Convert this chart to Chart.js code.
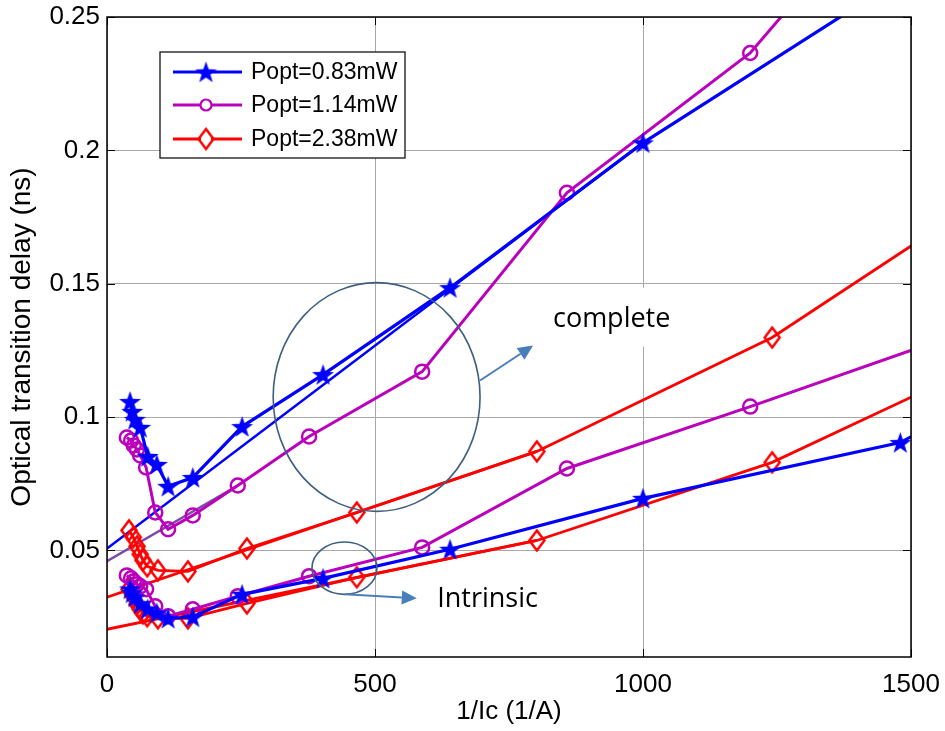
<!DOCTYPE html>
<html>
<head>
<meta charset="utf-8">
<script src="https://cdn.jsdelivr.net/npm/chart.js"></script>
<style>
  html, body { margin: 0; padding: 0; background: #fff; }
  #wrap { width: 945px; height: 731px; }
</style>
</head>
<body>
<div id="wrap"><canvas id="delayChart" width="945" height="731"></canvas></div>
<script>
(function () {
  // axis ticks
  const xTicks = [0, 500, 1000, 1500];
  const yTicks = [0.05, 0.1, 0.15, 0.2, 0.25];

  // Popt = 0.83 mW (stars)
  const blueX = [43, 47, 52, 62, 76, 93, 114, 160, 252, 403, 640, 1000, 1480];
  const blueComplete = [0.1058, 0.1021, 0.0991, 0.0961, 0.0852, 0.0822, 0.0740, 0.0773, 0.0964, 0.1159, 0.1485, 0.2028, 0.2644];
  const blueIntX = [43, 47, 52, 62, 76, 93, 114, 160, 252, 403, 640, 1000, 1480, 1700];
  const blueIntrinsic = [0.0355, 0.0340, 0.0325, 0.0300, 0.0280, 0.0265, 0.0245, 0.0250, 0.0335, 0.0395, 0.0504, 0.0695, 0.0904, 0.1146];

  // Popt = 1.14 mW (circles)
  const magX = [37, 45, 50, 56, 62, 73, 90, 114, 160, 244, 377, 588, 858, 1200, 1700];
  const magComplete = [0.0923, 0.0912, 0.0893, 0.0878, 0.0856, 0.0811, 0.0642, 0.0579, 0.0631, 0.0743, 0.0927, 0.1170, 0.1841, 0.2365, 0.354];
  const magIntrinsic = [0.0406, 0.0395, 0.0384, 0.0373, 0.0365, 0.0354, 0.0290, 0.0253, 0.0279, 0.0328, 0.0403, 0.0511, 0.0807, 0.1039, 0.139];

  // Popt = 2.38 mW (diamonds)
  const redX = [41, 49, 56, 62, 67, 75, 95, 151, 261, 466, 802, 1241, 1700];
  const redComplete = [0.0575, 0.0549, 0.0515, 0.0485, 0.0463, 0.0440, 0.0425, 0.0421, 0.0507, 0.0642, 0.0871, 0.1298, 0.1906];
  const redIntrinsic = [0.0354, 0.0328, 0.0298, 0.0279, 0.0264, 0.0253, 0.0245, 0.0245, 0.0301, 0.0399, 0.0537, 0.0830, 0.1263];

  // linear fits (end points)
  const fitBlueX = [0, 1000];
  const fitBlueY = [0.0507, 0.2028];
  const fitMagX = [0, 244];
  const fitMagY = [0.0459, 0.0743];
  const fitRedX = [0, 802];
  const fitRedY = [0.0324, 0.0871];
  const fitRedIntX = [0, 802];
  const fitRedIntY = [0.0204, 0.0537];

  const legendLabels = ['Popt=0.83mW', 'Popt=1.14mW', 'Popt=2.38mW'];

  const BLUE = '#0000ff';
  const MAG = '#bb00bb';
  const RED = '#ff0000';
  const PURPLE = '#7b49a6';

  function pts(xs, ys) {
    return xs.map(function (v, i) { return { x: v, y: ys[i] }; });
  }

  // filled pentagram like matlab 'p'
  function makeStar(color, r) {
    const c = document.createElement('canvas');
    const s = Math.ceil(r * 2 + 2);
    c.width = s; c.height = s;
    const g = c.getContext('2d');
    g.beginPath();
    for (let i = 0; i < 10; i++) {
      const a = -Math.PI / 2 + i * Math.PI / 5;
      const rr = (i % 2) ? r * 0.4 : r;
      const px = s / 2 + rr * Math.cos(a);
      const py = s / 2 + rr * Math.sin(a) + 1;
      if (i === 0) g.moveTo(px, py); else g.lineTo(px, py);
    }
    g.closePath();
    g.fillStyle = color;
    g.fill();
    return c;
  }

  function makeDiamond(color, w, h, lw) {
    const c = document.createElement('canvas');
    c.width = w + lw * 2; c.height = h + lw * 2;
    const g = c.getContext('2d');
    const cx = c.width / 2, cy = c.height / 2;
    g.beginPath();
    g.moveTo(cx, cy - h / 2);
    g.lineTo(cx + w / 2, cy);
    g.lineTo(cx, cy + h / 2);
    g.lineTo(cx - w / 2, cy);
    g.closePath();
    g.strokeStyle = color;
    g.lineWidth = lw;
    g.stroke();
    return c;
  }

  const starImg = makeStar(BLUE, 11.5);
  const diamondImg = makeDiamond(RED, 15, 20, 2.5);

  function dataLine(data, color, width, style) {
    return {
      data: data,
      showLine: true,
      borderColor: color,
      backgroundColor: 'rgba(0,0,0,0)',
      borderWidth: width,
      pointStyle: style,
      pointRadius: 7,
      pointBorderWidth: 2.5,
      pointBorderColor: color,
      pointBackgroundColor: 'rgba(0,0,0,0)',
      tension: 0,
      clip: 0
    };
  }

  function fitLine(data, color, width) {
    return {
      data: data,
      showLine: true,
      borderColor: color,
      borderWidth: width,
      pointRadius: 0,
      tension: 0,
      clip: 0
    };
  }

  // annotation placement (data units)
  const bigEllipse = { x: 503, y: 0.1075, rx: 193, ry: 0.0429 };
  const smallEllipse = { x: 443, y: 0.0433, rx: 60.6, ry: 0.0098 };
  const bigArrow = [696, 0.1137, 795, 0.1268];
  const smallArrow = [444, 0.0335, 578, 0.0320];
  const completeLabel = { x: 832, y: 0.1365, text: 'complete' };
  const intrinsicLabel = { x: 616, y: 0.0316, text: 'Intrinsic' };
  const completePatch = [813, 0.1485, 1088, 0.1264];

  function arrow(ctx, x1, y1, x2, y2) {
    const ang = Math.atan2(y2 - y1, x2 - x1);
    const hl = 15, hw = 7;
    const bx = x2 - hl * Math.cos(ang), by = y2 - hl * Math.sin(ang);
    ctx.beginPath();
    ctx.moveTo(x1, y1);
    ctx.lineTo(bx, by);
    ctx.stroke();
    ctx.beginPath();
    ctx.moveTo(x2, y2);
    ctx.lineTo(bx + hw * Math.sin(ang), by - hw * Math.cos(ang));
    ctx.lineTo(bx - hw * Math.sin(ang), by + hw * Math.cos(ang));
    ctx.closePath();
    ctx.fill();
  }

  const overlay = {
    id: 'overlay',
    beforeDatasetsDraw: function (chart) {
      // label box of "complete" hides the grid behind it
      const ctx = chart.ctx, x = chart.scales.x, y = chart.scales.y;
      const l = x.getPixelForValue(completePatch[0]);
      const t = y.getPixelForValue(completePatch[1]);
      const r = x.getPixelForValue(completePatch[2]);
      const b = y.getPixelForValue(completePatch[3]);
      ctx.save();
      ctx.fillStyle = '#fff';
      ctx.fillRect(l, t, r - l, b - t);
      ctx.restore();
    },
    afterDatasetsDraw: function (chart) {
      const ctx = chart.ctx, x = chart.scales.x, y = chart.scales.y;
      const area = chart.chartArea;
      ctx.save();

      // ellipses
      ctx.strokeStyle = '#3f5f80';
      ctx.lineWidth = 1.6;
      [bigEllipse, smallEllipse].forEach(function (e) {
        const cx = x.getPixelForValue(e.x), cy = y.getPixelForValue(e.y);
        const rx = x.getPixelForValue(e.x + e.rx) - cx;
        const ry = cy - y.getPixelForValue(e.y + e.ry);
        ctx.beginPath();
        ctx.ellipse(cx, cy, rx, ry, 0, 0, Math.PI * 2);
        ctx.stroke();
      });

      // arrows
      ctx.strokeStyle = '#4a7ebb';
      ctx.fillStyle = '#4a7ebb';
      ctx.lineWidth = 2;
      [bigArrow, smallArrow].forEach(function (a) {
        arrow(ctx, x.getPixelForValue(a[0]), y.getPixelForValue(a[1]),
          x.getPixelForValue(a[2]), y.getPixelForValue(a[3]));
      });

      // text labels
      ctx.fillStyle = '#000';
      ctx.font = '27px "Open Sans", sans-serif';
      ctx.textBaseline = 'middle';
      ctx.textAlign = 'left';
      [completeLabel, intrinsicLabel].forEach(function (t) {
        ctx.fillText(t.text, x.getPixelForValue(t.x), y.getPixelForValue(t.y));
      });

      // box and inward ticks
      ctx.strokeStyle = '#000';
      ctx.lineWidth = 1.5;
      ctx.strokeRect(area.left, area.top, area.right - area.left, area.bottom - area.top);
      ctx.lineWidth = 1;
      ctx.beginPath();
      xTicks.forEach(function (v) {
        const px = Math.round(x.getPixelForValue(v)) + 0.5;
        ctx.moveTo(px, area.bottom); ctx.lineTo(px, area.bottom - 8);
        ctx.moveTo(px, area.top); ctx.lineTo(px, area.top + 8);
      });
      yTicks.forEach(function (v) {
        const py = Math.round(y.getPixelForValue(v)) + 0.5;
        ctx.moveTo(area.left, py); ctx.lineTo(area.left + 8, py);
        ctx.moveTo(area.right, py); ctx.lineTo(area.right - 8, py);
      });
      ctx.stroke();

      // legend
      const lx = area.left + 53, ly = area.top + 35, lw = 245, lh = 106;
      ctx.fillStyle = '#fff';
      ctx.fillRect(lx, ly, lw, lh);
      ctx.strokeStyle = '#000';
      ctx.lineWidth = 1.2;
      ctx.strokeRect(lx, ly, lw, lh);
      const colors = [BLUE, MAG, RED];
      const rows = [20, 53, 87];
      ctx.font = '23px "Liberation Sans", Arial, sans-serif';
      ctx.textBaseline = 'middle';
      legendLabels.forEach(function (label, i) {
        const ry = ly + rows[i];
        ctx.strokeStyle = colors[i];
        ctx.lineWidth = 3;
        ctx.beginPath();
        ctx.moveTo(lx + 13, ry); ctx.lineTo(lx + 82, ry);
        ctx.stroke();
        const mx = lx + 46;
        if (i === 0) {
          ctx.drawImage(starImg, mx - starImg.width / 2, ry - starImg.height / 2);
        } else if (i === 1) {
          ctx.lineWidth = 2.2;
          ctx.beginPath();
          ctx.arc(mx, ry, 5.5, 0, Math.PI * 2);
          ctx.fillStyle = '#fff';
          ctx.fill();
          ctx.stroke();
        } else {
          ctx.fillStyle = '#fff';
          ctx.fillRect(mx - 5, ry - 7, 10, 14);
          ctx.drawImage(diamondImg, mx - diamondImg.width / 2, ry - diamondImg.height / 2);
        }
        ctx.fillStyle = '#000';
        ctx.fillText(label, lx + 91, ry + 1);
      });

      ctx.restore();
    }
  };

  const tickFont = { family: '"Liberation Sans", Arial, sans-serif', size: 26 };
  const titleFont = { family: '"Liberation Sans", Arial, sans-serif', size: 26 };
  const yTitleFont = { family: '"Liberation Sans", Arial, sans-serif', size: 28 };

  function init() {
    const canvas = document.getElementById('delayChart');
    new Chart(canvas.getContext('2d'), {
      type: 'scatter',
      data: {
        datasets: [
          dataLine(pts(blueX, blueComplete), BLUE, 3.2, starImg),
          dataLine(pts(blueIntX, blueIntrinsic), BLUE, 3.2, starImg),
          dataLine(pts(magX, magComplete), MAG, 3, 'circle'),
          dataLine(pts(magX, magIntrinsic), MAG, 3, 'circle'),
          dataLine(pts(redX, redComplete), RED, 2.8, diamondImg),
          dataLine(pts(redX, redIntrinsic), RED, 2.8, diamondImg),
          fitLine(pts(fitBlueX, fitBlueY), BLUE, 2.5),
          fitLine(pts(fitMagX, fitMagY), PURPLE, 2.5),
          fitLine(pts(fitRedX, fitRedY), RED, 2.8),
          fitLine(pts(fitRedIntX, fitRedIntY), RED, 2.8)
        ]
      },
      options: {
        responsive: false,
        animation: false,
        devicePixelRatio: 1,
        layout: { padding: { left: 0, right: 34, top: 17, bottom: 0 } },
        plugins: { legend: { display: false }, tooltip: { enabled: false } },
        scales: {
          x: {
            type: 'linear',
            min: 0,
            max: 1500,
            afterBuildTicks: function (s) { s.ticks = xTicks.map(function (v) { return { value: v }; }); },
            afterFit: function (s) { s.height = 74; s.paddingLeft = 0; s.paddingRight = 0; },
            ticks: { color: '#000', font: tickFont, padding: 12, maxRotation: 0, callback: function (v) { return String(v); } },
            grid: { color: '#a8a8a8', lineWidth: 1, drawTicks: false },
            border: { display: false },
            title: { display: true, text: '1/Ic (1/A)', color: '#000', font: titleFont, padding: { top: 0, bottom: 4 } }
          },
          y: {
            type: 'linear',
            min: 0.01,
            max: 0.25,
            afterBuildTicks: function (s) { s.ticks = yTicks.map(function (v) { return { value: v }; }); },
            afterFit: function (s) { s.width = 107; s.paddingTop = 0; s.paddingBottom = 0; },
            ticks: { color: '#000', font: tickFont, padding: 7, callback: function (v) { return String(v); } },
            grid: { color: '#a8a8a8', lineWidth: 1, drawTicks: false },
            border: { display: false },
            title: { display: true, text: 'Optical transition delay (ns)', color: '#000', font: yTitleFont, padding: { top: 5, bottom: 0 } }
          }
        }
      },
      plugins: [overlay]
    });
  }

  if (document.readyState === 'loading') {
    document.addEventListener('DOMContentLoaded', init);
  } else {
    init();
  }
})();
</script>
</body>
</html>
